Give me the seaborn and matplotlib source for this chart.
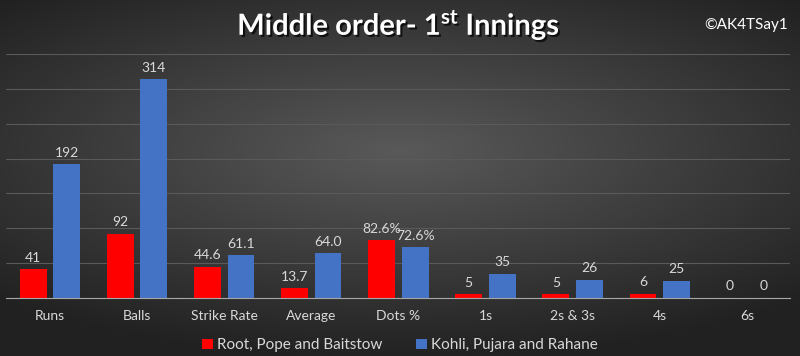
import numpy as np
import pandas as pd
import seaborn as sns
import matplotlib.pyplot as plt
import matplotlib.patheffects as pe

# data
categories = ["Runs", "Balls", "Strike Rate", "Average", "Dots %", "1s", "2s & 3s", "4s", "6s"]
label_fmt = ["{:.0f}", "{:.0f}", "{:.1f}", "{:.1f}", "{:.1f}%", "{:.0f}", "{:.0f}", "{:.0f}", "{:.0f}"]
eng_name = "Root, Pope and Baitstow"
ind_name = "Kohli, Pujara and Rahane"
eng_values = [41, 92, 44.6, 13.7, 82.6, 5, 5, 6, 0]
ind_values = [192, 314, 61.1, 64.0, 72.6, 35, 26, 25, 0]

df = pd.DataFrame({
    "Stat": categories * 2,
    "Group": [eng_name] * len(categories) + [ind_name] * len(categories),
    "Value": eng_values + ind_values,
})

sns.set_style("dark")
plt.rcParams["font.family"] = ["Lato", "DejaVu Sans"]
plt.rcParams["mathtext.fontset"] = "custom"
plt.rcParams["mathtext.rm"] = "Lato"
plt.rcParams["mathtext.bf"] = "Lato:bold"

fig = plt.figure(figsize=(8, 3.56), dpi=100)

# dark radial background
bg = fig.add_axes([0, 0, 1, 1], zorder=0)
xx, yy = np.meshgrid(np.linspace(-1, 1, 400), np.linspace(-1, 1, 178))
r = np.sqrt((xx * 0.9) ** 2 + ((yy + 0.15) * 1.1) ** 2)
shade = np.clip(0.35 - 0.17 * r, 0.13, 0.35)
bg.imshow(np.dstack([shade] * 3), aspect="auto", extent=[0, 1, 0, 1])
bg.set_axis_off()

ax = fig.add_axes([0.008, 0.163, 0.98, 0.685], zorder=1)
ax.patch.set_alpha(0)

sns.barplot(data=df, x="Stat", y="Value", hue="Group", ax=ax,
            palette=["#FF0000", "#4472C4"], width=0.77, gap=0.2, saturation=1,
            linewidth=0, edgecolor="none")

for cont in ax.containers:
    labels = [fmt.format(v) for fmt, v in zip(label_fmt, cont.datavalues)]
    ax.bar_label(cont, labels=labels, padding=4, color="#D9D9D9", fontsize=10)

ax.set_ylim(0, 350)
ax.set_yticks(range(0, 351, 50))
ax.set_yticklabels([])
ax.tick_params(axis="y", length=0)
ax.tick_params(axis="x", length=0, colors="#D9D9D9", labelsize=10, pad=9)
ax.grid(axis="y", color="#5A5A5A", lw=0.8)
ax.set_axisbelow(True)
for s in ["top", "right", "left"]:
    ax.spines[s].set_visible(False)
ax.spines["bottom"].set_color("#A6A6A6")
ax.set_xlabel("")
ax.set_ylabel("")
ax.set_xlim(-0.5, len(categories) - 0.5)

ax.legend(loc="center", bbox_to_anchor=(0.5, 0.03), bbox_transform=fig.transFigure,
          ncol=2, frameon=False, fontsize=11, labelcolor="#D9D9D9",
          handlelength=0.7, handleheight=0.7, handletextpad=0.3, columnspacing=2.2)

fig.text(0.498, 0.93, r"Middle order- 1$^{\mathbf{st}}$ Innings", ha="center", va="center",
         color="white", fontsize=21, fontweight="bold",
         path_effects=[pe.withSimplePatchShadow(offset=(1.5, -1.5), shadow_rgbFace="black", alpha=0.7)])
fig.text(0.985, 0.93, "©AK4TSay1", ha="right", va="center", color="white", fontsize=11)

fig.savefig("out.png", dpi=100)
